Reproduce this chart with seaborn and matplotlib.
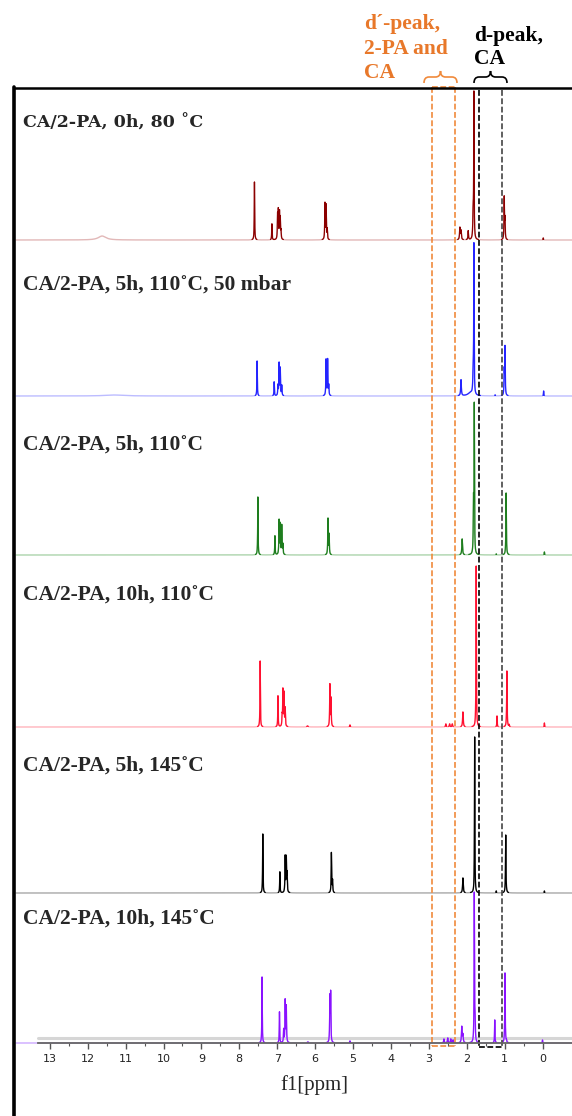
import numpy as np
import pandas as pd
import matplotlib
matplotlib.use("Agg")
import matplotlib.pyplot as plt
import seaborn as sns
from matplotlib.path import Path
from matplotlib.patches import PathPatch

sns.set_theme(style="white")
plt.rcParams['font.family'] = ['Liberation Serif', 'DejaVu Sans']

# ---------------- data ----------------
titles = ["CA/2-PA, 0h, 80 \u02daC", "CA/2-PA, 5h, 110\u02daC, 50 mbar", "CA/2-PA, 5h, 110\u02daC",
          "CA/2-PA, 10h, 110\u02daC", "CA/2-PA, 5h, 145\u02daC", "CA/2-PA, 10h, 145\u02daC"]
colors = ["#8b0000", "#2424ff", "#1e7d1e", "#ff1030", "#000000", "#8a12ff"]
light_colors = ["#e2b8b8", "#bcbcff", "#acd4ac", "#ffb4bc", "#a8a8a8", "#cca8ff"]

# sharp peaks: positions (ppm), intensities (a.u.) and half-widths (ppm) for each spectrum
pos_1 = [7.60, 7.14, 6.99, 6.97, 6.94, 6.92, 6.90, 5.74, 5.71, 5.68, 2.18, 2.15, 1.96, 1.83, 1.81, 1.01, 0.99, -0.02]
hgt_1 = [58, 16, 24, 28, 26, 20, 8, 36, 34, 10, 12, 9, 9, 25, 144, 42, 20, 2]
wid_1 = [0.006, 0.006, 0.007, 0.007, 0.007, 0.007, 0.007, 0.007, 0.007, 0.007, 0.01, 0.01, 0.008, 0.01, 0.006, 0.007, 0.007, 0.006]

pos_2 = [7.53, 7.08, 6.98, 6.95, 6.92, 6.88, 5.71, 5.67, 5.64, 2.15, 1.90, 1.83, 1.81, 1.25, 1.01, 0.99, -0.03]
hgt_2 = [35, 14, 10, 32, 27, 10, 36, 36, 10, 16, 3, 20, 148, 1, 24, 48, 5]
wid_2 = [0.006, 0.006, 0.007, 0.007, 0.007, 0.007, 0.007, 0.007, 0.007, 0.01, 0.08, 0.01, 0.006, 0.006, 0.007, 0.007, 0.006]

pos_3 = [7.51, 7.06, 6.95, 6.92, 6.88, 6.85, 5.66, 5.63, 2.12, 1.82, 1.80, 1.22, 0.96, -0.05]
hgt_3 = [58, 19, 34, 30, 29, 10, 36, 20, 16, 50, 146, 1, 62, 3]
wid_3 = [0.006, 0.006, 0.007, 0.007, 0.007, 0.007, 0.007, 0.007, 0.01, 0.008, 0.006, 0.006, 0.007, 0.006]

pos_4 = [7.45, 6.98, 6.87, 6.85, 6.82, 6.79, 6.20, 5.61, 5.58, 5.08, 2.55, 2.45, 2.38, 2.10, 1.75, 1.20, 0.94, 0.88, -0.05]
hgt_4 = [66, 31, 10, 36, 33, 18, 1, 42, 28, 2, 3, 3, 3, 15, 161, 11, 56, 2, 4]
wid_4 = [0.006, 0.006, 0.007, 0.007, 0.007, 0.007, 0.02, 0.007, 0.007, 0.01, 0.01, 0.01, 0.01, 0.01, 0.006, 0.006, 0.007, 0.006, 0.006]

pos_5 = [7.38, 6.93, 6.79, 6.76, 6.74, 5.57, 5.54, 2.10, 1.79, 1.22, 0.97, -0.05]
hgt_5 = [59, 21, 36, 34, 18, 40, 12, 15, 156, 2, 58, 2]
wid_5 = [0.006, 0.006, 0.007, 0.007, 0.007, 0.007, 0.007, 0.01, 0.006, 0.006, 0.007, 0.006]

pos_6 = [7.40, 6.94, 6.83, 6.79, 6.76, 6.19, 5.61, 5.59, 5.08, 2.60, 2.50, 2.42, 2.36, 2.13, 2.10, 1.80, 1.78, 1.26, 0.99, 0.95, 0.00]
hgt_6 = [66, 31, 13, 42, 36, 1, 44, 48, 2, 4, 5, 4, 3, 16, 8, 148, 22, 23, 70, 2, 3]
wid_6 = [0.006, 0.006, 0.007, 0.007, 0.007, 0.02, 0.007, 0.007, 0.01, 0.01, 0.01, 0.01, 0.01, 0.01, 0.01, 0.006, 0.008, 0.006, 0.007, 0.006, 0.006]

# broad humps (faint) for each spectrum
hump_pos = [[11.62], [11.3], [], [], [], []]
hump_hgt = [[4], [1], [], [], [], []]
hump_wid = [[0.12], [0.3], [], [], [], []]

peak_pos = [pos_1, pos_2, pos_3, pos_4, pos_5, pos_6]
peak_hgt = [hgt_1, hgt_2, hgt_3, hgt_4, hgt_5, hgt_6]
peak_wid = [wid_1, wid_2, wid_3, wid_4, wid_5, wid_6]

tick_values = list(range(0, 14))
region_dprime = [2.916, 2.309]   # d'-peak, 2-PA and CA
region_d = [1.675, 1.069]        # d-peak, CA

# ---------------- layout (pixel frame) ----------------
W, H = 572, 1116
PX0, PXPP = 542.5, 37.9


def ppm(px):
    return (PX0 - px) / PXPP


baselines = [240, 396, 555, 727, 893, 1043]
title_y = [123, 285, 445, 595, 766, 919]

fig = plt.figure(figsize=(W / 100, H / 100), dpi=100)
ax = fig.add_axes([0, 0, 1, 1])


def lorentz_sum(xs, ps, hs, gs):
    out = np.zeros_like(xs)
    for p, h, g in zip(ps, hs, gs):
        out += h * g ** 2 / ((xs - p) ** 2 + g ** 2)
    return out


# build spectra
x = np.linspace(ppm(16), ppm(W), 30000)
frames = []
for i in range(6):
    sharp = lorentz_sum(x, peak_pos[i], peak_hgt[i], peak_wid[i])
    broad = lorentz_sum(x, hump_pos[i], hump_hgt[i], hump_wid[i])
    y = sharp + broad
    sig = sharp > 0.5
    seg = np.cumsum(np.r_[True, sig[1:] != sig[:-1]])
    frames.append(pd.DataFrame({"ppm": x, "y": baselines[i] - y, "sample": titles[i],
                                "sig": sig, "seg": seg}))
df = pd.concat(frames, ignore_index=True)

# grey band of the last spectrum
ax.plot([ppm(38), ppm(W)], [1038, 1038], color="#d6d6d6", lw=2.2, zorder=1)

# faint full trace
sns.lineplot(data=df, x="ppm", y="y", hue="sample", palette=light_colors, hue_order=titles,
             estimator=None, sort=False, linewidth=1.0, legend=False, ax=ax, zorder=2)
# strong signal parts
sns.lineplot(data=df[df["sig"]], x="ppm", y="y", hue="sample", units="seg", palette=colors,
             hue_order=titles, estimator=None, sort=False, linewidth=0.9, legend=False, ax=ax, zorder=3)
ax.set_xlim(ppm(0), ppm(W))
ax.set_ylim(H, 0)
ax.axis('off')

# dashed region boxes
oc = "#f08a3c"
dash = (0, (3.5, 1.5))
for xv in region_dprime:
    ax.plot([xv, xv], [87, 1046], color=oc, lw=1.2, ls=dash, zorder=5)
ax.plot(region_dprime, [87, 87], color=oc, lw=1.2, ls=dash, zorder=5)
ax.plot(region_dprime, [1046, 1046], color=oc, lw=1.2, ls=dash, zorder=5)
ax.plot([region_d[0]] * 2, [90, 1047], color="#000000", lw=1.2, ls=dash, zorder=5)
ax.plot([region_d[1]] * 2, [90, 1047], color="#444444", lw=1.2, ls=dash, zorder=5)
ax.plot(region_d, [1047, 1047], color="#000000", lw=1.2, ls=dash, zorder=5)

# bottom axis
axb = fig.add_axes([38 / W, 1 - 1043 / H, (W - 38) / W, 1e-5])
axb.set_xlim(ppm(38), ppm(W))
axb.set_yticks([])
for s in ["top", "left", "right"]:
    axb.spines[s].set_visible(False)
axb.spines["bottom"].set_color("#666666")
axb.spines["bottom"].set_linewidth(1.3)
axb.patch.set_alpha(0)
axb.set_xticks(tick_values)
axb.set_xticklabels([str(t) for t in tick_values], fontsize=8, family="DejaVu Sans", color="#222222")
axb.set_xticks(np.arange(0.5, 13.5, 1.0), minor=True)
axb.tick_params(axis="x", which="major", direction="out", length=4, width=1, color="#555555", pad=4, bottom=True)
axb.tick_params(axis="x", which="minor", direction="out", length=2.5, width=0.8, color="#555555", bottom=True)
fig.text(314 / W, 1 - 1085 / H, "f1[ppm]", ha="center", va="center", fontsize=15, family="Liberation Serif")

# annotation overlay in pixel coordinates
an = fig.add_axes([0, 0, 1, 1])
an.set_xlim(0, W)
an.set_ylim(H, 0)
an.axis('off')
an.patch.set_alpha(0)
an.plot([14, W], [88, 88], color="black", lw=1.8)
an.plot([14, 14], [87, H], color="black", lw=2.6)


def brace(x0, x1, color):
    yt, ym, yb = 71, 77, 83
    xc = (x0 + x1) / 2
    verts = [(x0, yb), (x0, ym), (x0 + 5, ym), (xc - 5, ym), (xc, ym), (xc, yt),
             (xc, ym), (xc + 5, ym), (x1 - 5, ym), (x1, ym), (x1, yb)]
    codes = [Path.MOVETO, Path.CURVE3, Path.CURVE3, Path.LINETO, Path.CURVE3, Path.CURVE3,
             Path.CURVE3, Path.CURVE3, Path.LINETO, Path.CURVE3, Path.CURVE3]
    an.add_patch(PathPatch(Path(verts, codes), fill=False, edgecolor=color, lw=1.2))


brace(424, 457, oc)
brace(474, 507, "black")

tc = "#e8782a"
for txt, yy in [("d\u00b4-peak,", 24), ("2-PA and", 49), ("CA", 73)]:
    an.text(364, yy, txt, color=tc, fontsize=15.5, fontweight="bold", ha="left", va="center",
            family="Liberation Serif")
for txt, yy in [("d-peak,", 36), ("CA", 59)]:
    an.text(474, yy, txt, color="black", fontsize=15.5, fontweight="bold", ha="left", va="center",
            family="Liberation Serif")

for i, t in enumerate(titles):
    fam = "DejaVu Serif" if i == 0 else "Liberation Serif"
    fs = 12.5 if i == 0 else 15.5
    an.text(23, title_y[i], t, fontsize=fs, fontweight="bold", ha="left", va="center", family=fam)

fig.savefig("out.png", dpi=100)
